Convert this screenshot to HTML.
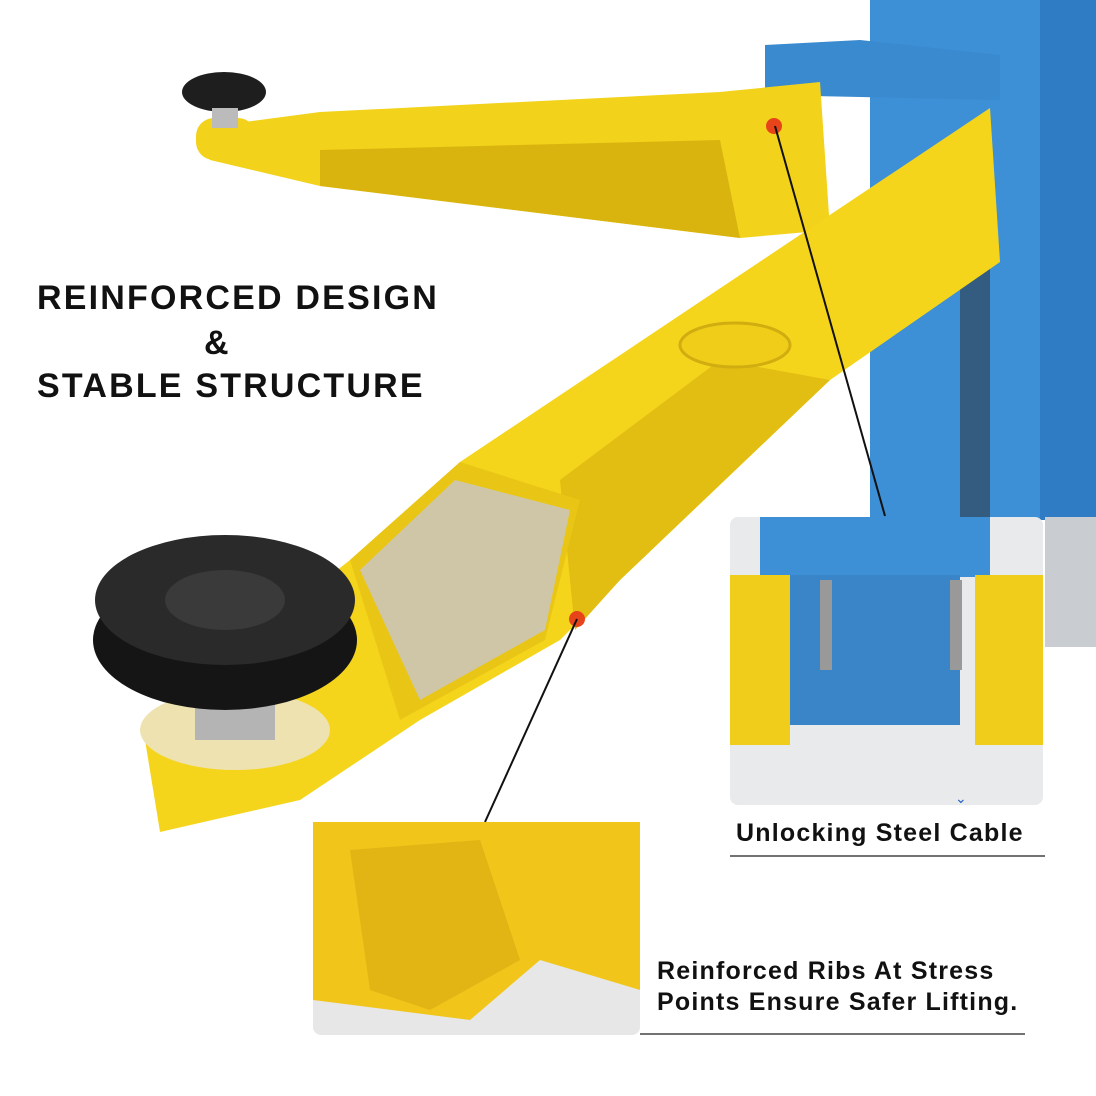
<!DOCTYPE html>
<html><head><meta charset="utf-8"><style>
html,body{margin:0;padding:0;background:#fff;}
.wrap{position:relative;width:1096px;height:1096px;overflow:hidden;font-family:"Liberation Sans",sans-serif;}
.h{position:absolute;font-weight:bold;color:#111;font-size:34px;letter-spacing:2.2px;white-space:nowrap;}
.lab{position:absolute;font-weight:bold;color:#111;font-size:25px;letter-spacing:1.2px;white-space:nowrap;}
</style></head><body><div class="wrap">
<svg width="1096" height="1096" style="position:absolute;left:0;top:0">
<!-- blue column -->
<rect x="870" y="0" width="226" height="520" fill="#3d8fd6"/>
<rect x="1040" y="0" width="56" height="520" fill="#2f7cc4"/>
<polygon points="765,45 860,40 1000,55 1000,100 765,95" fill="#3a8ad0"/>
<rect x="960" y="260" width="30" height="260" fill="#2a2a2a" opacity="0.5"/>
<!-- upper arm -->
<polygon points="200,128 320,112 720,92 820,82 830,230 740,238 320,186 210,160" fill="#f2d21a"/>
<polygon points="320,150 720,140 740,238 320,186" fill="#d9b40f"/>
<rect x="196" y="118" width="60" height="42" rx="18" fill="#f2d21a"/>
<ellipse cx="224" cy="92" rx="42" ry="20" fill="#1e1e1e"/>
<rect x="212" y="108" width="26" height="20" fill="#bbb"/>
<!-- big arm -->
<polygon points="145,740 185,690 350,560 460,462 990,108 1000,262 830,380 620,580 560,640 420,720 300,800 160,832" fill="#f5d51c"/>
<polygon points="560,480 720,360 830,380 620,580 575,630" fill="#e2bd12"/>
<polygon points="350,560 460,462 580,500 545,640 400,720" fill="#e9c615"/>
<polygon points="360,570 455,480 570,510 545,630 420,700" fill="#cfc6a8"/>
<ellipse cx="735" cy="345" rx="55" ry="22" fill="#efcd18" stroke="#d2ad10" stroke-width="3"/>
<!-- big pad -->
<ellipse cx="235" cy="730" rx="95" ry="40" fill="#eee2b0"/>
<rect x="195" y="660" width="80" height="80" fill="#b4b4b4"/>
<ellipse cx="225" cy="640" rx="132" ry="70" fill="#151515"/>
<ellipse cx="225" cy="600" rx="130" ry="65" fill="#2a2a2a"/>
<ellipse cx="225" cy="600" rx="60" ry="30" fill="#3a3a3a"/>
<!-- red dots -->
<circle cx="774" cy="126" r="8" fill="#e8441a"/>
<circle cx="577" cy="619" r="8" fill="#e8441a"/>
<!-- leader lines -->
<line x1="775" y1="126" x2="885" y2="516" stroke="#111" stroke-width="2"/>
<line x1="577" y1="619" x2="485" y2="822" stroke="#111" stroke-width="2"/>
<!-- right inset -->
<rect x="730" y="517" width="313" height="288" rx="8" fill="#e8eaec"/>
<rect x="760" y="517" width="230" height="60" fill="#3d8fd6"/>
<rect x="790" y="575" width="170" height="150" fill="#3a84c8"/>
<rect x="730" y="575" width="60" height="170" fill="#f0cd1a"/>
<rect x="975" y="575" width="68" height="170" fill="#f0cd1a"/>
<rect x="820" y="580" width="12" height="90" fill="#999"/>
<rect x="950" y="580" width="12" height="90" fill="#999"/>
<rect x="1045" y="517" width="51" height="130" fill="#c9cdd2"/>
<!-- bottom inset -->
<rect x="313" y="822" width="327" height="213" rx="8" fill="#e7e7e7"/>
<polygon points="313,822 640,822 640,990 540,960 470,1020 313,1000" fill="#f1c51a"/>
<polygon points="350,850 480,840 520,960 430,1010 370,990" fill="#e2b414"/>
<line x1="730" y1="856" x2="1045" y2="856" stroke="#444" stroke-width="1.5"/>
<line x1="640" y1="1034" x2="1025" y2="1034" stroke="#444" stroke-width="1.5"/>
<text x="955" y="803" fill="#1e5fc0" font-size="14" font-family="Liberation Sans">⌄</text>
</svg>
<div class="h" style="left:37px;top:279px;">REINFORCED DESIGN</div>
<div class="h" style="left:204px;top:324px;">&amp;</div>
<div class="h" style="left:37px;top:367px;">STABLE STRUCTURE</div>
<div class="lab" style="left:736px;top:819px;">Unlocking Steel Cable</div>
<div class="lab" style="left:657px;top:957px;">Reinforced Ribs At Stress</div>
<div class="lab" style="left:657px;top:988px;">Points Ensure Safer Lifting.</div>
</div></body></html>
